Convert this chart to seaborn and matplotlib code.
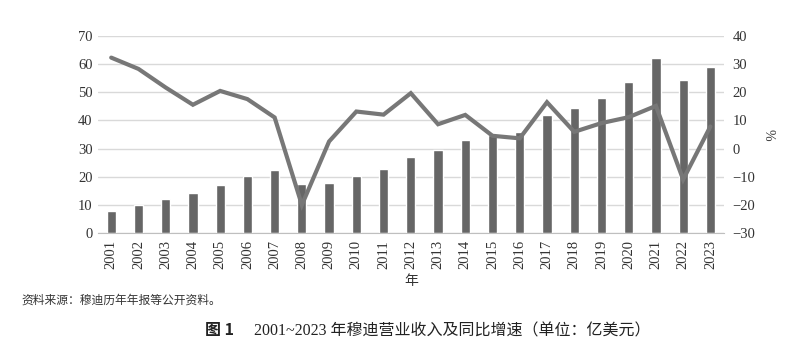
import numpy as np
import pandas as pd
import seaborn as sns
import matplotlib.pyplot as plt

sns.set_style('white')
plt.rcParams['font.family'] = ['Liberation Serif', 'Noto Sans CJK SC', 'DejaVu Sans']
plt.rcParams['axes.unicode_minus'] = True

# Moody's revenue (100M USD) and YoY growth (%)
years = [str(y) for y in range(2001, 2024)]
revenue = [7.7, 9.9, 12.0, 14.2, 17.1, 20.2, 22.3, 17.4, 17.7, 20.2, 22.6, 26.9,
           29.4, 33.1, 34.9, 35.7, 41.9, 44.3, 47.9, 53.5, 61.9, 54.4, 58.9]
growth = [32.2, 28.2, 21.6, 15.5, 20.4, 17.5, 11.0, -20.0, 2.5, 13.1, 12.0, 19.6,
          8.6, 11.9, 4.5, 3.6, 16.4, 5.9, 9.0, 11.1, 15.1, -11.0, 7.8]

df = pd.DataFrame({'year': years, 'revenue': revenue, 'growth': growth})
df['pos'] = np.arange(len(df))

fig = plt.figure(figsize=(8, 3.56), dpi=100)
ax = fig.add_axes([0.122, 0.345, 0.783, 0.555])

sns.barplot(data=df, x='year', y='revenue', color='#666666', saturation=1,
            width=0.34, ax=ax, zorder=2)
ax.set_ylim(0, 70)
ax.set_yticks(range(0, 71, 10))
ax.set_xlim(-0.5, len(df) - 0.5)
ax.grid(axis='y', color='#d9d9d9', linewidth=1, zorder=0)
ax.set_axisbelow(True)
for s in ['top', 'left', 'right']:
    ax.spines[s].set_visible(False)
ax.spines['bottom'].set_color('#bfbfbf')
ax.tick_params(axis='both', length=0, labelsize=10.5, colors='#333333')
ax.tick_params(axis='x', labelrotation=90, pad=5)
ax.set_ylabel('')
ax.set_xlabel('年', fontsize=10, color='#333333', labelpad=3,
              family=['Noto Sans CJK SC'])

ax2 = ax.twinx()
sns.lineplot(data=df, x='pos', y='growth', color='#777777', linewidth=3.0,
             ax=ax2, zorder=3, solid_capstyle='round', solid_joinstyle='miter')
ax2.set_ylim(-30, 40)
ax2.set_yticks(range(-30, 41, 10))
ax2.set_xlim(-0.5, len(df) - 0.5)
for s in ['top', 'left', 'right', 'bottom']:
    ax2.spines[s].set_visible(False)
ax2.tick_params(axis='y', length=0, labelsize=10.5, colors='#333333', pad=6)
ax2.set_ylabel('%', rotation=-90, fontsize=10, color='#333333', labelpad=14)
ax2.set_xlabel('')

fig.text(0.027, 0.148, '资料来源：穆迪历年年报等公开资料。', fontsize=8.5,
         color='#333333', family=['Noto Sans CJK SC'])
fig.text(0.256, 0.058, '图 1', fontsize=11.5, fontweight='bold', color='#222222',
         family=['Noto Sans CJK SC'])
fig.text(0.318, 0.058, '2001~2023 年穆迪营业收入及同比增速（单位：亿美元）',
         fontsize=11.5, color='#222222',
         family=['Liberation Serif', 'Noto Sans CJK SC'])

fig.savefig('out.png', dpi=100)
